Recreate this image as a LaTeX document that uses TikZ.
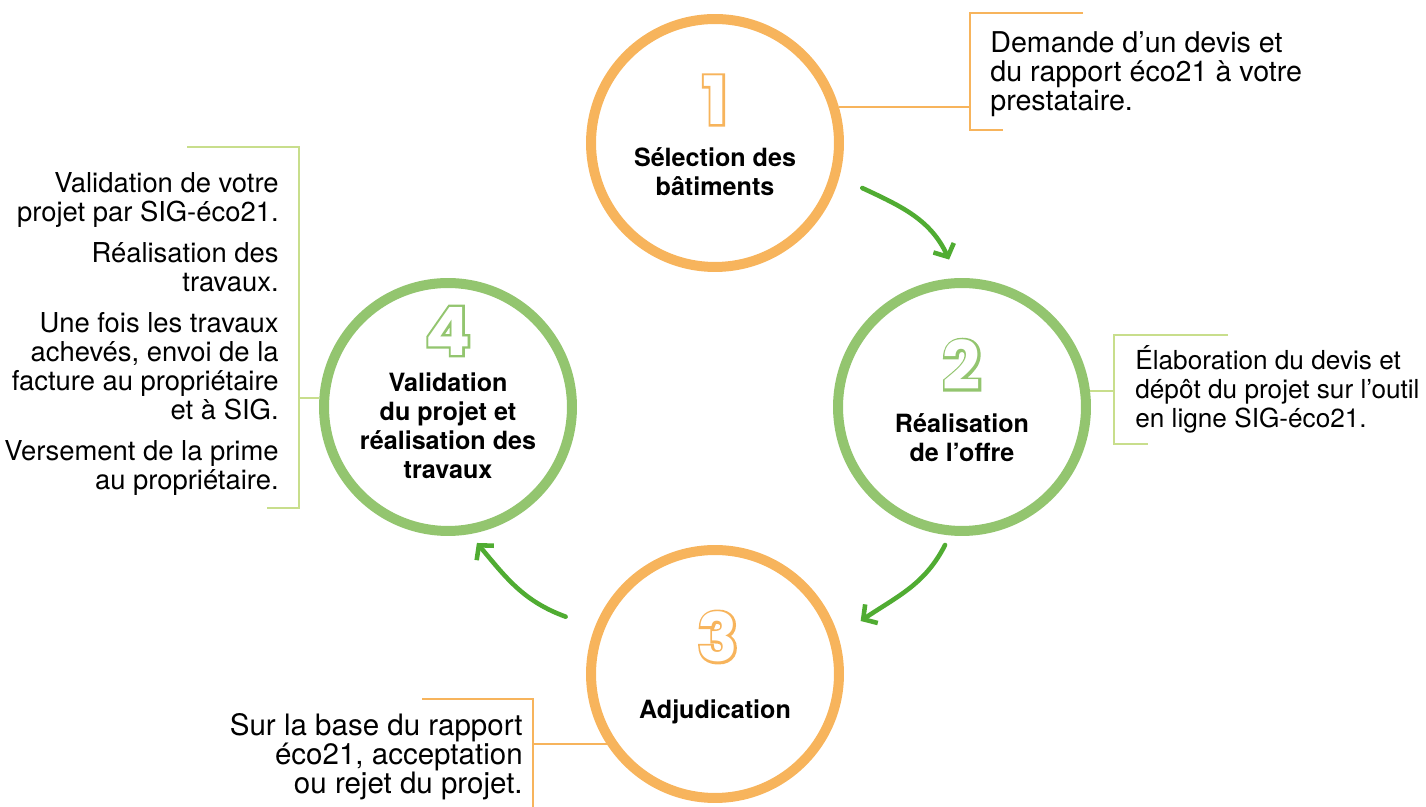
\documentclass[tikz,border=0pt]{standalone}
\usepackage{fontspec}
\setmainfont{TeX Gyre Heros}
\newfontfamily\digitfont{Poppins}
\newfontfamily\digitrim{Poppins}[FakeBold=7]
\usetikzlibrary{calc,arrows.meta}

\definecolor{stepor}{RGB}{247,180,92}
\definecolor{stepgr}{RGB}{147,197,111}
\definecolor{leafgr}{RGB}{200,222,140}
\definecolor{arrowgr}{RGB}{80,172,50}

\tikzset{
  stepring/.style={circle, minimum size=4.96cm, line width=0.2cm},
  steptitle/.style={font=\fontsize{14.3pt}{16.5pt}\selectfont\bfseries, align=center, inner sep=0},
  stepnote/.style={font=\fontsize{#1}{16.5pt}\selectfont, inner sep=0},
  stepnote/.default=15.5pt,
  stepdigit/.style={font=\fontsize{38pt}{38pt}\selectfont, inner sep=0},
  notebracket/.style={line width=0.04cm},
  stepflow/.style={draw=arrowgr, line width=2.6pt, line cap=round, line join=round,
    -{Straight Barb[length=0.2cm, width=0.45cm]}},
}

% digit with a coloured rim
\newcommand\hollowdigit[2]{%
  \makebox[0pt][l]{\textcolor{#1}{\digitrim\bfseries #2}}\textcolor{white}{\digitfont\bfseries #2}}

\begin{document}
\begin{tikzpicture}[x=0.02cm, y=0.02cm]
\useasboundingbox (0, 0) rectangle (1426, 807);

\node[stepring, draw=stepor] (one) at (715, 664) {};
\node[stepring, draw=stepgr] (two) at (962, 400) {};
\node[stepring, draw=stepor] (three) at (715, 133) {};
\node[stepring, draw=stepgr] (four) at (448, 400) {};

\node[stepdigit] (one num) at (715, 707) {\hollowdigit{stepor}{1}};
\node[stepdigit] (two num) at (962, 442) {\hollowdigit{stepgr}{2}};
\node[stepdigit] (three num) at (718, 170) {\hollowdigit{stepor}{3}};
\node[stepdigit] (four num) at (448, 476) {\hollowdigit{stepgr}{4}};

\node[steptitle] (one title) at (715, 635) {Sélection des\\bâtiments};
\node[steptitle] (two title) at (962, 369) {Réalisation\\de l’offre};
\node[steptitle] (three title) at (715, 95) {Adjudication};
\node[steptitle] (four title) at (448, 381) {Validation\\du projet et\\réalisation des\\travaux};

\node[stepnote=16.3pt, anchor=north west, align=left] (quote) at (990, 776) {Demande d’un devis et\\du rapport éco21 à votre\\prestataire.};
\node[stepnote=14.9pt, anchor=north west, align=left] (offer) at (1135, 462) {Élaboration du devis et\\dépôt du projet sur l’outil\\en ligne SIG-éco21.};
\node[stepnote=16.8pt, anchor=north east, align=right] (award) at (523, 94) {Sur la base du rapport\\éco21, acceptation\\ou rejet du projet.};
\node[stepnote=15.6pt, anchor=north east, align=right] (works) at (279, 635) {Validation de votre\\projet par SIG-éco21.\\[0.24cm]Réalisation des\\travaux.\\[0.24cm]Une fois les travaux\\achevés, envoi de la\\facture au propriétaire\\et à SIG.\\[0.24cm]Versement de la prime\\au propriétaire.};

% brackets round the notes
\draw[notebracket, draw=stepor] (1083, 794) -- (970, 794) -- (970, 677) -- (1003, 677);
\coordinate (quote rail) at (970, 700);
\draw[notebracket, draw=stepor] (one.16) -- (one.16 -| quote rail);

\draw[notebracket, draw=leafgr] (1228, 472) -- (1114, 472) -- (1114, 363) -- (1148, 363);
\coordinate (offer rail) at (1114, 415);
\draw[notebracket, draw=leafgr] (two.7) -- (two.7 -| offer rail);

\draw[notebracket, draw=stepor] (422, 108) -- (533, 108) -- (533, -2);
\coordinate (award rail) at (533, 64);
\draw[notebracket, draw=stepor] (three.213) -- (three.213 -| award rail);

\draw[notebracket, draw=leafgr] (187, 660) -- (299, 660) -- (299, 299) -- (267, 299);
\coordinate (works rail) at (299, 406);
\draw[notebracket, draw=leafgr] (four.176) -- (four.176 -| works rail);

% cycle arrows
\draw[stepflow] ($(one.center)+(-17:154)$) to[out=-25, in=115] ($(two.center)+(95:148)$);
\draw[stepflow] ($(two.center)+(-97:139)$) to[out=-117, in=34] ($(three.center)+(20:155)$);
\draw[stepflow] ($(three.center)+(159:160)$) to[out=160, in=-50] ($(four.center)+(-78:139)$);
\end{tikzpicture}
\end{document}
